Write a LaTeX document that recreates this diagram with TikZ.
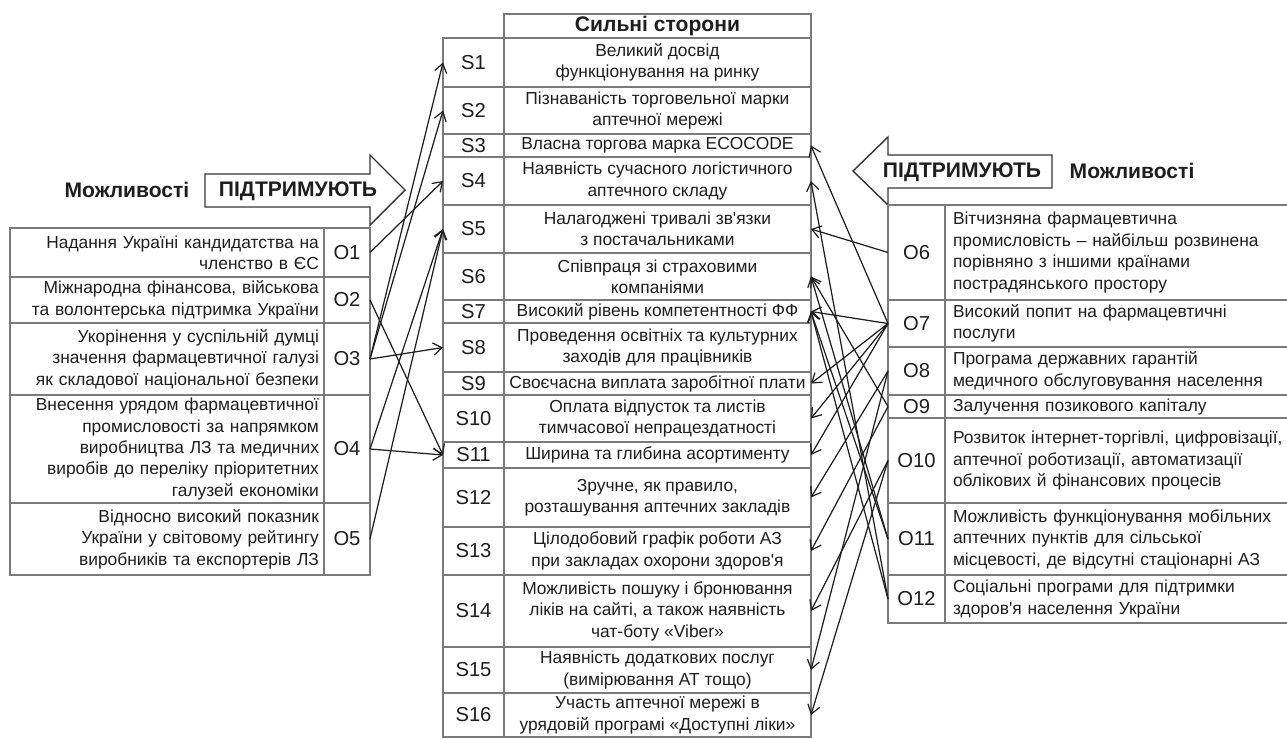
\documentclass[tikz,border=0pt]{standalone}
\usepackage{fontspec}
\setmainfont{Liberation Sans}
\usetikzlibrary{arrows.meta}

\definecolor{ink}{HTML}{1E1E1E}
\definecolor{rule}{HTML}{7A7A7A}
\newcommand{\txtf}{\fontsize{9.9}{12.2}\selectfont}
\newcommand{\labf}{\fontsize{11.5}{13}\selectfont}
\newcommand{\hdf}{\fontsize{12}{14}\selectfont\bfseries}

\begin{document}
\begin{tikzpicture}[x=0.02cm, y=-0.02cm, >={Straight Barb[length=5pt, width=7pt]},
    cell/.style={draw=rule, line width=0.7pt, inner sep=0pt, outer sep=0pt,
        anchor=north west, text=ink, align=center, font=\txtf},
    slab/.style={cell, font=\labf, minimum width=1.22cm, minimum height=#1},
    stxt/.style={cell, minimum width=6.14cm, minimum height=#1},
    olab/.style={cell, font=\labf, minimum width=0.92cm, minimum height=#1},
    otxtl/.style={cell, minimum height=#1, text width=6.08cm, inner xsep=0.1cm, align=right},
    rlab/.style={cell, font=\labf, minimum width=1.14cm, minimum height=#1},
    otxtr/.style={cell, minimum height=#1, text width=6.88cm, inner xsep=0.16cm, align=left},
    hd/.style={text=ink, font=\hdf, inner sep=0pt},
    bigarr/.style={draw=ink!90, line width=0.8pt},
    conn/.style={->, draw=ink, line width=0.7pt}]
    \useasboundingbox (0,0) rectangle (1287,738);

    % strengths
    \node[cell, minimum width=6.14cm, minimum height=0.48cm, font=\hdf] (hdr) at (504,14) {Сильні сторони};
    \node[slab=0.98cm] (s1) at (443,38) {S1};
    \node[stxt=0.98cm] (s1t) at (504,38) {Великий досвід\\функціонування на ринку};
    \node[slab=0.94cm] (s2) at (443,87) {S2};
    \node[stxt=0.94cm] (s2t) at (504,87) {Пізнаваність торговельної марки\\аптечної мережі};
    \node[slab=0.46cm] (s3) at (443,134) {S3};
    \node[stxt=0.46cm] (s3t) at (504,134) {Власна торгова марка ECOCODE};
    \node[slab=0.96cm] (s4) at (443,157) {S4};
    \node[stxt=0.96cm] (s4t) at (504,157) {Наявність сучасного логістичного\\аптечного складу};
    \node[slab=0.96cm] (s5) at (443,205) {S5};
    \node[stxt=0.96cm] (s5t) at (504,205) {Налагоджені тривалі зв\textquotesingle язки\\з постачальниками};
    \node[slab=0.94cm] (s6) at (443,253) {S6};
    \node[stxt=0.94cm] (s6t) at (504,253) {Співпраця зі страховими\\компаніями};
    \node[slab=0.46cm] (s7) at (443,300) {S7};
    \node[stxt=0.46cm] (s7t) at (504,300) {Високий рівень компетентності ФФ};
    \node[slab=0.98cm] (s8) at (443,323) {S8};
    \node[stxt=0.98cm] (s8t) at (504,323) {Проведення освітніх та культурних\\заходів для працівників};
    \node[slab=0.46cm] (s9) at (443,372) {S9};
    \node[stxt=0.46cm] (s9t) at (504,372) {Своєчасна виплата заробітної плати};
    \node[slab=0.94cm] (s10) at (443,395) {S10};
    \node[stxt=0.94cm] (s10t) at (504,395) {Оплата відпусток та листів\\тимчасової непрацездатності};
    \node[slab=0.52cm] (s11) at (443,442) {S11};
    \node[stxt=0.52cm] (s11t) at (504,442) {Ширина та глибина асортименту};
    \node[slab=1.18cm] (s12) at (443,468) {S12};
    \node[stxt=1.18cm] (s12t) at (504,468) {Зручне, як правило,\\розташування аптечних закладів};
    \node[slab=0.96cm] (s13) at (443,527) {S13};
    \node[stxt=0.96cm] (s13t) at (504,527) {Цілодобовий графік роботи АЗ\\при закладах охорони здоров\textquotesingle я};
    \node[slab=1.44cm] (s14) at (443,575) {S14};
    \node[stxt=1.44cm] (s14t) at (504,575) {Можливість пошуку і бронювання\\ліків на сайті, а також наявність\\чат-боту «Viber»};
    \node[slab=0.92cm] (s15) at (443,647) {S15};
    \node[stxt=0.92cm] (s15t) at (504,647) {Наявність додаткових послуг\\(вимірювання АТ тощо)};
    \node[slab=0.88cm] (s16) at (443,693) {S16};
    \node[stxt=0.88cm] (s16t) at (504,693) {Участь аптечної мережі в\\урядовій програмі «Доступні ліки»};

    % opportunities, left
    \node[hd] (mozhl) at (127,190) {Можливості};
    \draw[bigarr] (205,174) -- (370,174) -- (370,155) -- (405,190) -- (370,225) -- (370,207) -- (205,207) -- cycle;
    \node[hd] (pidl) at (298,191) {ПІДТРИМУЮТЬ};
    \node[otxtl=0.98cm] (o1t) at (10,228) {Надання Україні кандидатства на\\членство в ЄС};
    \node[olab=0.98cm] (o1) at (324,228) {O1};
    \node[otxtl=0.92cm] (o2t) at (10,277) {Міжнародна фінансова, військова\\та волонтерська підтримка України};
    \node[olab=0.92cm] (o2) at (324,277) {O2};
    \node[otxtl=1.44cm] (o3t) at (10,323) {Укорінення у суспільній думці\\значення фармацевтичної галузі\\як складової національної безпеки};
    \node[olab=1.44cm] (o3) at (324,323) {O3};
    \node[otxtl=2.16cm] (o4t) at (10,395) {Внесення урядом фармацевтичної\\промисловості за напрямком\\виробництва ЛЗ та медичних\\виробів до переліку пріоритетних\\галузей економіки};
    \node[olab=2.16cm] (o4) at (324,395) {O4};
    \node[otxtl=1.44cm] (o5t) at (10,503) {Відносно високий показник\\України у світовому рейтингу\\виробників та експортерів ЛЗ};
    \node[olab=1.44cm] (o5) at (324,503) {O5};

    % opportunities, right
    \draw[bigarr] (1052,155) -- (888,155) -- (888,137) -- (853,171) -- (888,205) -- (888,188) -- (1052,188) -- cycle;
    \node[hd] (pidr) at (962,172) {ПІДТРИМУЮТЬ};
    \node[hd] (mozhr) at (1132,171) {Можливості};
    \node[rlab=1.90cm] (o6) at (888,205) {O6};
    \node[otxtr=1.90cm] (o6t) at (945,205) {Вітчизняна фармацевтична\\промисловість – найбільш розвинена\\порівняно з іншими країнами\\пострадянського простору};
    \node[rlab=0.94cm] (o7) at (888,300) {O7};
    \node[otxtr=0.94cm] (o7t) at (945,300) {Високий попит на фармацевтичні\\послуги};
    \node[rlab=0.96cm] (o8) at (888,347) {O8};
    \node[otxtr=0.96cm] (o8t) at (945,347) {Програма державних гарантій\\медичного обслуговування населення};
    \node[rlab=0.46cm] (o9) at (888,395) {O9};
    \node[otxtr=0.46cm] (o9t) at (945,395) {Залучення позикового капіталу};
    \node[rlab=1.70cm] (o10) at (888,418) {O10};
    \node[otxtr=1.70cm] (o10t) at (945,418) {Розвиток інтернет-торгівлі, цифровізації,\\аптечної роботизації, автоматизації\\облікових й фінансових процесів};
    \node[rlab=1.44cm] (o11) at (888,503) {O11};
    \node[otxtr=1.44cm] (o11t) at (945,503) {Можливість функціонування мобільних\\аптечних пунктів для сільської\\місцевості, де відсутні стаціонарні АЗ};
    \node[rlab=0.96cm] (o12) at (888,575) {O12};
    \node[otxtr=0.96cm] (o12t) at (945,575) {Соціальні програми для підтримки\\здоров\textquotesingle я населення України};

    % links, left
    \draw[conn] (o1.east) -- (s4.west);
    \draw[conn] (o2.east) -- (s11.west);
    \draw[conn] (o3.east) -- (s1.west);
    \draw[conn] (o3.east) -- (s2.west);
    \draw[conn] (o3.east) -- (s8.west);
    \draw[conn] (o4.east) -- (s5.west);
    \draw[conn] (o4.east) -- (s11.west);
    \draw[conn] (o5.east) -- (s5.west);

    % links, right
    \draw[conn] (o6.west) -- (s5t.east);
    \draw[conn] (o7.west) -- (s3t.east);
    \draw[conn] (o7.west) -- (s7t.east);
    \draw[conn] (o7.west) -- (s9t.east);
    \draw[conn] (o7.west) -- (s10t.east);
    \draw[conn] (o7.west) -- (s11t.east);
    \draw[conn] (o8.west) -- (s12t.east);
    \draw[conn] (o8.west) -- (s15t.east);
    \draw[conn] (o9.west) -- (s6t.east);
    \draw[conn] (o9.west) -- (s13t.east);
    \draw[conn] (o10.west) -- (s14t.east);
    \draw[conn] (o10.west) -- (s16t.east);
    \draw[conn] (o11.west) -- (s6t.east);
    \draw[conn] (o11.west) -- (s7t.east);
    \draw[conn] (o12.west) -- (s4t.east);
    \draw[conn] (o12.west) -- (s7t.east);
\end{tikzpicture}
\end{document}
